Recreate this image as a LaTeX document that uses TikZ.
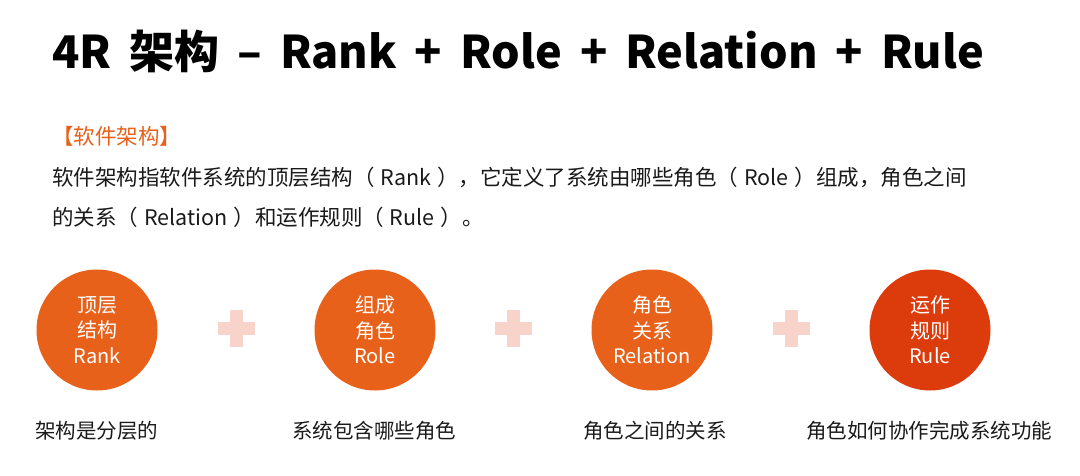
\documentclass[tikz,border=0pt]{standalone}
\usepackage{fontspec}
\setmainfont{Noto Sans CJK SC}
\usetikzlibrary{positioning}

\newcommand\titleFont{\fontsize{45}{50}\selectfont\bfseries\spaceskip=18pt\relax}

\begin{document}
\begin{tikzpicture}[x=1pt, y=-1pt,
    roleCircle/.style={circle, minimum size=121pt, inner sep=0pt, text=white,
        align=center, font=\fontsize{20}{25.5}\selectfont},
    caption/.style={anchor=west, inner sep=0pt, text=textColour,
        font=\fontsize{20.5}{24}\selectfont},
    bodyText/.style={anchor=west, inner sep=0pt, text=textColour,
        font=\fontsize{21.5}{26}\selectfont}]

    \definecolor{textColour}{HTML}{1A1A1A}
    \definecolor{orangeColour}{HTML}{E8611A}
    \definecolor{redColour}{HTML}{DC3B0C}
    \definecolor{plusColour}{HTML}{F7D3C9}

    % Fix the canvas
    \useasboundingbox (0,0) rectangle (1080,476);

    % Title
    \node[anchor=west, inner sep=0pt, font=\titleFont] (title) at (52,51)
        {4R 架构 – Rank + Role + Relation + Rule};

    % Definition text
    \node[bodyText, text=orangeColour] (heading) at (52,136) {【软件架构】};
    \node[bodyText] (lineOne) at (52,177)
        {软件架构指软件系统的顶层结构（\;Rank\;），它定义了系统由哪些角色（\;Role\;）组成，角色之间};
    \node[bodyText] (lineTwo) at (52,217)
        {的关系（\;Relation\;）和运作规则（\;Rule\;）。};

    % Draw the four circles
    \node[roleCircle, fill=orangeColour] (rank) at (97,330) {顶层\\结构\\Rank};
    \node[roleCircle, fill=orangeColour] (role) at (375,330) {组成\\角色\\Role};
    \node[roleCircle, fill=orangeColour] (relation) at (652,330) {角色\\关系\\Relation};
    \node[roleCircle, fill=redColour] (rule) at (930,330) {运作\\规则\\Rule};

    % Draw plus signs between the circles
    \foreach \px in {236,513,791} {
        \fill[plusColour] (\px-18.5,328-6.5) rectangle (\px+18.5,328+6.5);
        \fill[plusColour] (\px-6.5,328-18.5) rectangle (\px+6.5,328+18.5);
    }

    % Captions below
    \node[caption] (rankCaption) at (35,431) {架构是分层的};
    \node[caption] (roleCaption) at (292,431) {系统包含哪些角色};
    \node[caption] (relationCaption) at (583,431) {角色之间的关系};
    \node[caption] (ruleCaption) at (806,431) {角色如何协作完成系统功能};

\end{tikzpicture}
\end{document}
